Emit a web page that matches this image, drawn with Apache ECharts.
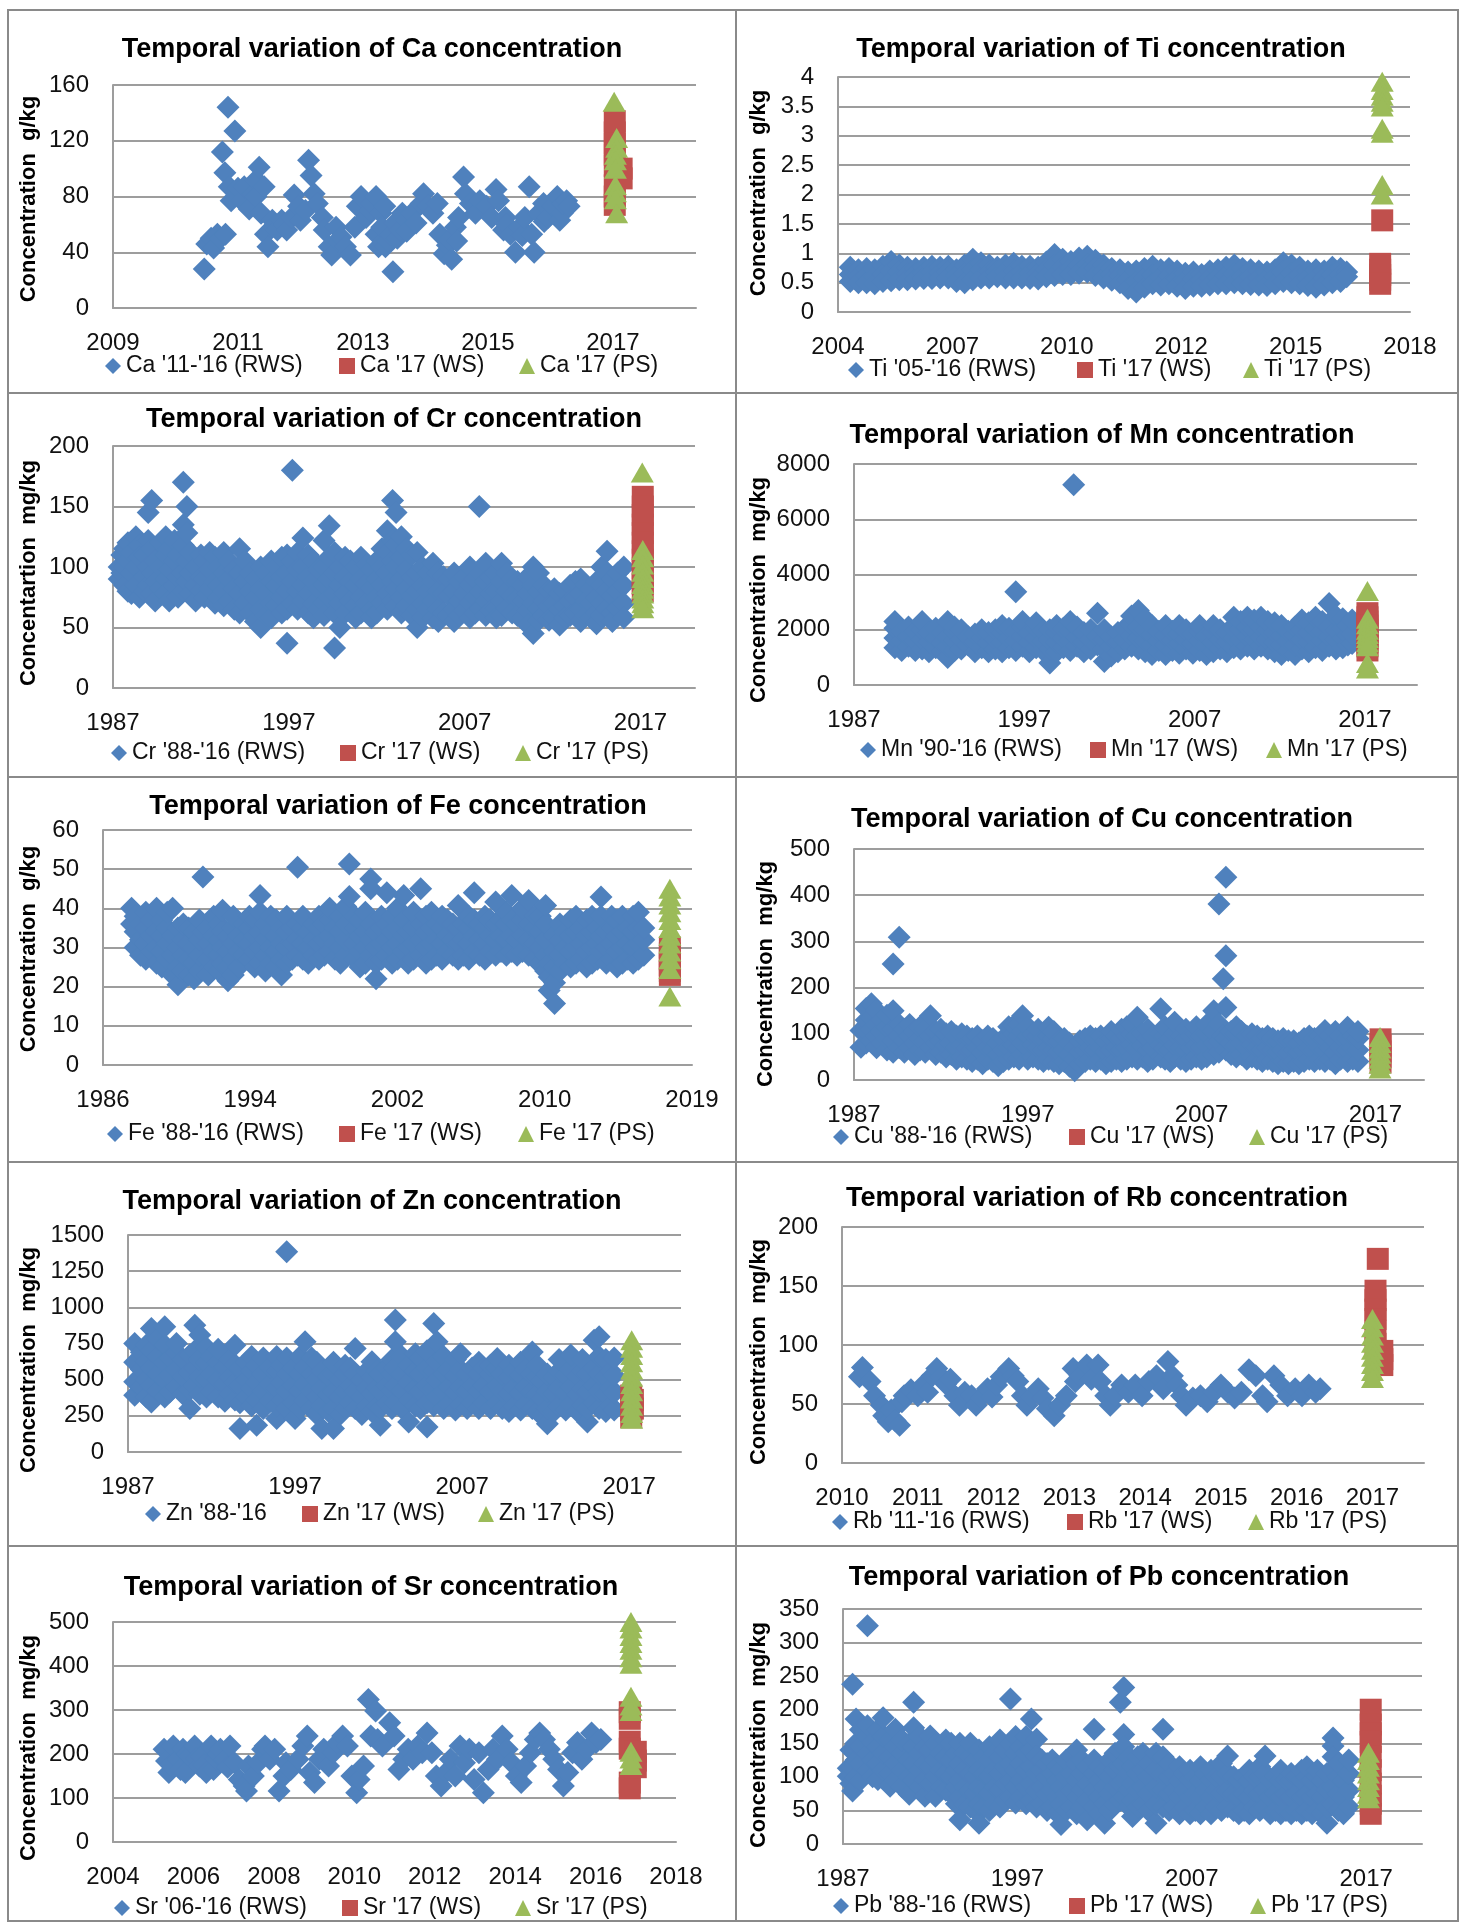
<!DOCTYPE html>
<html>
<head>
<meta charset="utf-8">
<script src="https://cdn.jsdelivr.net/npm/echarts@6/dist/echarts.min.js"></script>
<style>
  html, body { margin: 0; padding: 0; background: #fff; }
  #chart { width: 1460px; height: 1923px; }
</style>
</head>
<body>
<div id="chart"></div>
<script>
// ---- Data: each row is [decimal year, value, value, ...] (several samples on the same date) ----

// Ca (g/kg)
const caRWS = [[2010.46,28],[2010.5,46],[2010.57,50],[2010.61,43],[2010.67,53],[2010.72,50],[2010.75,112],[2010.79,97],[2010.8,53],[2010.84,144],[2010.86,87],[2010.89,77],[2010.95,127],[2011.0,86],[2011.06,77],[2011.1,87],[2011.18,71],[2011.24,82],[2011.29,92,80],[2011.34,101],[2011.37,68],[2011.42,87],[2011.44,53],[2011.48,44],[2011.55,63],[2011.6,60],[2011.63,56],[2011.7,63],[2011.75,60],[2011.78,56],[2011.86,65],[2011.9,81],[2011.97,73],[2012.0,63],[2012.08,70],[2012.13,106],[2012.17,95],[2012.22,82],[2012.27,75],[2012.35,65],[2012.38,56],[2012.46,44],[2012.5,38],[2012.57,58],[2012.6,48],[2012.65,51],[2012.72,44],[2012.8,38],[2012.87,58],[2012.91,73],[2012.97,80],[2013.05,65],[2013.1,70],[2013.14,75],[2013.21,80,53],[2013.25,44],[2013.29,68],[2013.3,58],[2013.35,73],[2013.36,44],[2013.4,48],[2013.44,53],[2013.48,26],[2013.51,61],[2013.55,50],[2013.59,56],[2013.63,68],[2013.7,63,55],[2013.78,68],[2013.85,61],[2013.93,75],[2013.97,82],[2014.04,73],[2014.12,68],[2014.19,75],[2014.23,53],[2014.3,39],[2014.35,45],[2014.38,49],[2014.42,35],[2014.48,58],[2014.5,48],[2014.53,65],[2014.61,94],[2014.64,82],[2014.72,75],[2014.8,68],[2014.87,77],[2014.98,73],[2015.06,65],[2015.13,85],[2015.17,77],[2015.25,56],[2015.28,65],[2015.3,60],[2015.36,53],[2015.44,40],[2015.51,58],[2015.55,52],[2015.59,65],[2015.66,87],[2015.7,53],[2015.74,40],[2015.81,68],[2015.89,75],[2015.9,62],[2015.96,65],[2016.04,73],[2016.11,80],[2016.15,63],[2016.19,68],[2016.2,75],[2016.26,77],[2016.3,73]];
const caWS = [[2017.03,134,126,118,110,102,88,80,74],[2017.14,100,93]];
const caPS = [[2017.02,148],[2017.06,122,115],[2017.04,110,106,100,88,83,78],[2017.06,68]];

// Ti (g/kg)
const tiRWS = [[2004.3,0.76,0.64,0.52],[2004.5,0.72,0.6,0.5],[2004.7,0.74,0.62,0.5],[2004.9,0.72,0.6,0.48],[2005.1,0.78,0.65,0.52],[2005.3,0.86,0.7,0.53],[2005.5,0.8,0.68,0.55],[2005.7,0.76,0.66,0.55],[2005.9,0.74,0.65,0.56],[2006.1,0.76,0.66,0.57],[2006.3,0.78,0.68,0.57],[2006.5,0.76,0.67,0.58],[2006.7,0.78,0.68,0.58],[2006.9,0.72,0.62,0.52],[2007.1,0.8,0.65,0.5],[2007.3,0.9,0.72,0.55],[2007.5,0.84,0.71,0.58],[2007.7,0.8,0.69,0.58],[2007.9,0.76,0.68,0.6],[2008.1,0.8,0.69,0.58],[2008.3,0.83,0.7,0.58],[2008.5,0.78,0.68,0.58],[2008.7,0.78,0.67,0.57],[2008.9,0.76,0.66,0.56],[2009.1,0.85,0.72,0.6],[2009.3,0.98,0.8,0.62],[2009.5,0.9,0.77,0.64],[2009.7,0.86,0.75,0.64],[2009.9,0.92,0.79,0.66],[2010.1,0.95,0.81,0.68],[2010.3,0.88,0.75,0.62],[2010.5,0.8,0.69,0.58],[2010.7,0.74,0.64,0.54],[2010.9,0.72,0.61,0.5],[2011.1,0.68,0.54,0.4],[2011.3,0.7,0.52,0.34],[2011.5,0.74,0.58,0.42],[2011.7,0.78,0.63,0.48],[2011.9,0.72,0.59,0.46],[2012.1,0.74,0.61,0.48],[2012.3,0.7,0.57,0.44],[2012.5,0.66,0.53,0.4],[2012.7,0.68,0.56,0.44],[2012.9,0.64,0.54,0.44],[2013.1,0.7,0.58,0.46],[2013.3,0.72,0.6,0.48],[2013.5,0.76,0.62,0.48],[2013.7,0.8,0.65,0.5],[2013.9,0.74,0.61,0.48],[2014.1,0.72,0.6,0.47],[2014.3,0.7,0.58,0.46],[2014.5,0.68,0.56,0.45],[2014.7,0.72,0.6,0.48],[2014.9,0.84,0.68,0.52],[2015.1,0.8,0.65,0.5],[2015.3,0.76,0.62,0.48],[2015.5,0.7,0.58,0.45],[2015.7,0.72,0.57,0.42],[2015.9,0.7,0.58,0.46],[2016.1,0.76,0.63,0.5],[2016.3,0.74,0.63,0.52],[2016.45,0.68,0.6]];
const tiWS = [[2017.32,1.56],[2017.27,0.82,0.72,0.63,0.55,0.48]];
const tiPS = [[2017.32,3.92,3.78,3.68,3.58,3.5,3.12,3.05,2.16,2.0]];

// Cr (mg/kg)
const crRWS = [[1987.35,100,90],[1987.5,110,95],[1987.65,115,85,100],[1987.85,120,105,80],[1988.05,112,95,78],[1988.3,125,100,85],[1988.5,118,108,75],[1988.8,110,92,80],[1989.0,145,122,100,85],[1989.2,155,115,95,78],[1989.4,105,88,72],[1989.7,120,100,82],[1990.0,125,110,90,78],[1990.2,115,98,72],[1990.5,122,105,85],[1990.7,110,92,75],[1991.0,170,135,118,95,80],[1991.2,150,128,105,88],[1991.4,112,95,78],[1991.7,100,85,72],[1992.0,110,92,80],[1992.2,105,90,75],[1992.5,112,98,82],[1992.8,108,88,70],[1993.0,100,85,75],[1993.3,112,95,80,68],[1993.6,105,90,72],[1993.9,98,82,65],[1994.2,115,95,78,62],[1994.5,105,88,70],[1994.8,95,80,62],[1995.1,90,75,55],[1995.4,100,82,65,50],[1995.7,95,78,60],[1996.0,105,88,70,58],[1996.3,100,85,68],[1996.6,108,92,75,62],[1996.9,110,95,80,65,37],[1997.2,180,105,88,70],[1997.5,112,98,80,65],[1997.8,124,100,85,72],[1998.1,110,92,78,62],[1998.4,105,88,70,58],[1998.7,98,82,65],[1999.0,122,100,85,70,60],[1999.3,134,108,90,75],[1999.6,112,95,78,62,33],[1999.9,100,85,70,50],[2000.2,108,92,78,62],[2000.5,105,88,72],[2000.8,100,85,68,58],[2001.1,108,90,75,62],[2001.4,102,86,70],[2001.7,98,82,65,58],[2002.0,105,90,75,62],[2002.3,115,100,85,70],[2002.6,130,112,95,78,65],[2002.9,155,122,105,88,72],[2003.1,145,118,100,82,68],[2003.4,125,108,90,75,62],[2003.7,115,98,82,68],[2004.0,110,92,76,60],[2004.3,112,95,80,65,50],[2004.6,100,85,70,58],[2004.9,95,80,65],[2005.2,103,88,72,58],[2005.5,95,80,65,55],[2005.8,92,78,62],[2006.1,90,76,60],[2006.4,95,80,65,55],[2006.7,88,72,60],[2007.0,92,78,64],[2007.3,100,85,70,58],[2007.6,90,75,62],[2007.83,150],[2007.9,95,80,66],[2008.2,103,88,72,60],[2008.5,92,78,64],[2008.8,95,80,66,58],[2009.1,103,88,72,60],[2009.4,95,80,66],[2009.7,90,76,62],[2010.0,88,74,60],[2010.3,85,72,58],[2010.6,92,78,64,52],[2010.9,100,85,70,45],[2011.2,95,80,66,56],[2011.5,85,72,60],[2011.8,80,68,56],[2012.1,82,70,58],[2012.4,78,65,52],[2012.7,80,68,58],[2013.0,85,72,60],[2013.3,88,75,62],[2013.6,90,78,65,55],[2013.9,85,72,60],[2014.2,82,70,58],[2014.5,88,75,62,53],[2014.8,100,85,70,60],[2015.1,113,95,80,65],[2015.4,90,76,62,55],[2015.7,95,80,66],[2016.05,100,85,70,58]];
const crWS = [[2017.13,158,150,143,135,128,120,113,106,99,92,86,80]];
const crPS = [[2017.1,178],[2017.13,114,108,102,96,91,86,82,78,74,70,66]];

// Mn (mg/kg)
const mnRWS = [[1989.4,1350,1700,2050,2300],[1989.8,1250,1600,1950],[1990.2,1400,1750,2100],[1990.6,1250,1600,1950],[1991.0,1300,1650,2000,2300],[1991.4,1200,1550,1900],[1991.8,1350,1700,2050],[1992.2,1200,1550,1900],[1992.5,1000,1400,1750,2300],[1992.9,1250,1600,1950,2100],[1993.3,1300,1650,2000],[1993.7,1450,1750],[1994.1,1200,1550,1850],[1994.5,1350,1700,2000],[1994.9,1200,1550,1900],[1995.3,1300,1650,2000],[1995.7,1200,1550,1900,2150],[1996.1,1350,1700,2050],[1996.5,1250,1600,1950,3380],[1996.9,1400,1750,2100,2300],[1997.3,1200,1550,1900],[1997.7,1350,1700,2050,2250],[1998.1,1250,1600,1950],[1998.5,800,1300,1650,2000],[1998.9,1200,1550,1900,2150],[1999.3,1350,1700,2050],[1999.7,1250,1600,1950,2300],[1999.9,7250],[2000.1,1400,1750,2100],[2000.5,1200,1550,1900],[2000.9,1300,1650,2000],[2001.3,1450,1750,2600],[2001.7,850,1300,1650,2000],[2002.1,1050,1400,1750],[2002.5,1200,1550,1900],[2002.9,1300,1650,2050],[2003.3,1400,1800,2200,2500],[2003.7,1300,1700,2100,2700],[2004.1,1200,1600,2000,2400],[2004.5,1100,1450,1800,2150],[2004.9,1250,1600,1950],[2005.3,1100,1450,1800,2150],[2005.7,1250,1600,1950],[2006.1,1150,1500,1850,2150],[2006.5,1300,1650,2000],[2006.9,1150,1500,1850],[2007.3,1250,1600,1950,2150],[2007.7,1100,1450,1800],[2008.1,1200,1550,1900,2150],[2008.5,1300,1650,2000],[2008.9,1200,1550,1900],[2009.3,1350,1700,2050,2450],[2009.7,1300,1650,2000,2300],[2010.1,1400,1750,2100,2450],[2010.5,1300,1650,2000,2350],[2010.9,1400,1750,2100,2450],[2011.3,1300,1650,2000,2300],[2011.7,1200,1550,1900,2250],[2012.1,1100,1450,1800,2150],[2012.5,1250,1600,1950],[2012.9,1100,1450,1800,2100],[2013.3,1300,1650,2000,2350],[2013.7,1200,1550,1900,2250],[2014.1,1350,1700,2050,2450],[2014.5,1250,1600,1950,2300],[2014.9,1400,1750,2100,2950],[2015.3,1300,1650,2000,2500],[2015.7,1350,1700,2050,2400],[2016.0,1450,1800,2150],[2016.25,1500,1850,2350]];
const mnWS = [[2017.15,2600,2450,2300,2150,2000,1850,1700,1550,1400,1250]];
const mnPS = [[2017.15,3400,2400,2200,2000,1850,1700,1550,1400,800,600]];

// Fe (g/kg)
const feRWS = [[1987.6,36,40],[1987.8,30,34,38],[1988.1,28,32,36],[1988.4,27,31,35,39],[1988.7,29,33,37],[1989.0,26,30,34,40],[1989.3,25,29,33,37],[1989.6,27,31,35,39],[1989.9,23,28,33,40],[1990.2,20.5,25,30,35],[1990.5,24,28,32,36],[1990.8,23,27,31,35],[1991.1,22,26,30,34],[1991.4,24,28,32,37],[1991.6,48,34],[1991.9,23,27,31,35],[1992.2,25,29,33,38],[1992.5,24,28,32,36],[1992.7,26,30,34,39.5],[1993.0,21.5,25,29,33],[1993.3,23,27,31,35,38],[1993.6,25,29,33],[1993.9,28,32,36],[1994.2,27,31,35,38],[1994.5,25,29,33,37],[1994.8,26,30,34,39,43.3],[1995.1,24,28,32,36],[1995.4,26,30,34,38],[1995.7,25,29,33,37],[1996.0,23,27,31,35],[1996.3,26,30,34,38],[1996.6,27,31,35],[1996.9,28,32,36,50.5],[1997.2,27,31,35,38],[1997.5,26,30,34],[1997.8,28,32,36],[1998.1,27,31,35,38],[1998.4,28,32,36],[1998.7,29,33,37,40],[1999.0,27,31,35],[1999.3,26,30,34,38],[1999.6,28,32,36,40.5],[1999.8,51.3,43],[2000.1,27,31,35,38],[2000.4,25,29,33,37],[2000.7,26,30,34,39],[2001.0,47.5,45,28,32,36],[2001.3,22,26,30,34],[2001.6,27,31,35,38],[2001.9,44,28,32,36],[2002.2,26,30,34,38],[2002.5,27,31,35,40],[2002.85,43.3,29,33,37],[2003.1,26,30,34],[2003.4,27,31,35,39],[2003.8,45,28,32,36],[2004.1,26,30,34,38],[2004.4,27,31,35,39],[2004.7,28,32,36],[2005.0,27,31,35,38],[2005.3,29,33,37],[2005.6,28,32,36],[2005.9,27,31,35,40.7],[2006.2,28,32,36],[2006.5,27,31,35,38],[2006.8,29,33,37,44],[2007.1,28,32,36],[2007.4,27,31,35,38],[2007.7,29,33,37],[2008.0,28,32,36,41.6],[2008.3,29,33,37],[2008.6,28,32,36,39],[2008.9,29,33,37,43.3],[2009.2,28,32,36],[2009.5,29,33,37,40],[2009.85,28,32,36,42],[2010.2,27,31,35,38],[2010.5,26,30,34,38],[2010.8,24,28,32,36,40.7],[2011.0,22.5,19,26],[2011.3,15.7,21,25,29,33],[2011.6,24,28,32,36],[2011.9,26,30,34],[2012.2,25,29,33,37],[2012.5,26,30,34,38],[2012.8,27,31,35],[2013.1,25,29,33,37],[2013.4,26,30,34,38],[2013.7,27,31,35],[2013.9,42.9,29,33,38],[2014.2,26,30,34],[2014.5,27,31,35,38],[2014.8,25,29,33,37],[2015.1,26,30,34,38],[2015.4,27,31,35],[2015.7,26,30,34,38],[2016.0,27,31,35,39],[2016.3,28,32,35]];
const feWS = [[2017.76,30,28.5,27,25.5,24,23]];
const fePS = [[2017.76,45,43,41,39,37,35,33,31,29,27,24.5,17.5]];

// Cu (mg/kg)
const cuRWS = [[1987.4,71,107],[1987.7,80,105,130,155],[1988.0,85,110,135,165],[1988.3,70,95,120,150],[1988.6,80,105,130],[1988.9,65,90,115,140],[1989.25,60,85,110,150,251],[1989.6,70,95,120,309],[1989.9,60,85,110],[1990.2,70,95,120],[1990.5,55,80,105],[1990.8,65,90,115],[1991.1,60,85,110],[1991.4,70,95,139],[1991.7,55,80,105],[1992.0,60,85,110],[1992.3,50,75,100],[1992.6,55,80,105],[1992.9,45,70,95],[1993.2,50,75,100],[1993.5,45,70,95],[1993.8,40,65,90],[1994.1,45,70,95],[1994.4,35,60,85],[1994.7,45,70,95],[1995.0,40,65,90],[1995.3,31,55,80],[1995.6,40,65,90],[1995.9,45,70,95,115],[1996.2,50,75,100,118],[1996.5,45,70,95,120],[1996.7,55,80,105,139],[1997.0,45,70,95,115],[1997.3,50,75,100],[1997.6,45,70,95,110],[1997.9,40,65,90],[1998.2,45,70,95,114],[1998.5,40,65,90,105],[1998.8,35,60,85],[1999.1,40,65,90],[1999.4,30,55,80],[1999.7,20,45,70],[2000.0,35,60,85],[2000.3,40,65,90],[2000.6,45,70,95],[2000.9,40,65,90],[2001.2,45,70,95],[2001.5,35,60,85],[2001.8,40,65,90,105],[2002.1,45,70,95],[2002.4,40,65,90,110],[2002.7,45,70,95,115],[2003.0,50,75,100,120],[2003.3,45,70,95,136],[2003.6,50,75,100],[2003.9,40,65,90,110],[2004.2,45,70,95],[2004.65,50,75,100,154],[2004.9,45,70,95,115],[2005.2,40,65,90],[2005.45,50,75,100,125],[2005.8,45,70,95],[2006.1,40,65,90,110],[2006.4,45,70,95],[2006.7,50,75,100,115],[2007.0,45,70,95],[2007.3,50,75,100,120],[2007.7,55,80,105,150],[2008.0,60,85,121,381],[2008.25,95,219],[2008.4,65,90,157,269,439],[2008.7,55,80,105],[2009.0,50,75,100,115],[2009.3,55,80,105],[2009.6,45,70,95],[2009.9,50,75,100],[2010.2,45,70,95],[2010.5,40,65,90],[2010.8,45,70,95],[2011.1,40,65,90],[2011.4,35,60,85],[2011.7,40,65,90],[2012.0,35,60,85],[2012.3,40,65,85],[2012.6,35,60,80],[2012.9,40,65,90],[2013.2,45,70,95],[2013.5,40,65,90],[2013.8,45,70,95],[2014.1,40,65,90,107],[2014.4,45,70,95],[2014.7,35,60,85,105],[2015.0,45,70,95],[2015.4,40,65,90,114],[2015.7,45,70,95],[2016.0,40,65,90,105]];
const cuWS = [[2017.3,88,75,62,50,38]];
const cuPS = [[2017.27,93,80,68,57,46,35,25]];

// Zn (mg/kg)
const znRWS = [[1987.4,392,485,620,750],[1987.8,450,570,690],[1988.1,380,500,623,740],[1988.4,346,460,580,700,854],[1988.8,420,540,660,780],[1989.2,380,500,620,740,865],[1989.5,415,530,650],[1989.9,450,570,690,750],[1990.3,400,520,640],[1990.7,300,430,550,670],[1991.0,460,580,700,877],[1991.3,400,520,640,808],[1991.7,380,500,620,720],[1992.0,420,540,660],[1992.4,380,500,620,710],[1992.8,350,470,590],[1993.1,400,520,640],[1993.4,360,480,600,738],[1993.7,162,340,460,580],[1994.1,380,500,620],[1994.4,320,440,560,660],[1994.7,185,360,480,600],[1995.1,300,420,540,650],[1995.5,350,470,590],[1995.9,231,320,440,560,660],[1996.2,360,480,600],[1996.5,300,420,540,650,1385],[1996.9,340,460,580],[1997.0,231],[1997.3,300,420,540,660],[1997.6,350,470,590,762],[1998.0,300,420,540,650],[1998.3,260,380,500,620],[1998.6,162,320,440,560],[1999.0,280,400,520],[1999.3,162,300,420,540,620],[1999.7,260,380,500],[2000.0,300,420,540,600],[2000.3,340,460,580],[2000.6,300,420,540,715],[2001.0,260,380,500],[2001.3,320,440,560],[2001.6,280,400,520,623],[2001.9,320,440,560],[2002.1,185,300,420,540],[2002.5,340,460,580],[2002.8,300,420,540,640],[2003.0,340,460,580,762,912],[2003.4,300,420,540,660],[2003.8,208,360,480,600],[2004.2,320,440,560,680],[2004.5,300,420,540,650],[2004.9,173,340,460,580,700],[2005.3,320,440,560,888],[2005.5,380,500,620,762],[2005.9,300,420,540,660],[2006.2,330,450,570],[2006.6,290,410,530,640],[2006.9,330,450,570,680],[2007.3,300,420,540],[2007.6,340,460,580],[2008.0,300,420,540,620],[2008.3,340,460,580],[2008.7,300,420,540,600],[2009.1,340,460,580,646],[2009.4,300,420,540],[2009.8,280,400,520,600],[2010.1,320,440,560],[2010.5,290,410,530,620],[2010.8,330,450,570],[2011.2,300,420,540,692],[2011.5,280,400,520,600],[2011.8,250,370,490],[2012.1,196,300,420,540],[2012.5,280,400,520],[2012.8,320,440,560,640],[2013.2,290,410,530],[2013.5,330,450,570,670],[2013.9,280,400,520],[2014.2,320,440,560,640],[2014.5,208,300,420,540],[2014.9,340,460,580,773],[2015.2,300,420,540,660,796],[2015.6,280,400,520,640],[2015.9,320,440,560],[2016.1,290,410,530,650]];
const znWS = [[2017.12,390,340,290,240],[2017.22,360,300]];
const znPS = [[2017.15,773,720,670,620,570,520,470,420,370,320,270,230]];

// Rb (mg/kg)
const rbRWS = [[2010.23,73],[2010.27,81],[2010.37,69],[2010.43,57],[2010.52,49],[2010.55,40],[2010.61,35],[2010.65,45],[2010.7,36],[2010.76,32],[2010.79,52],[2010.82,57],[2010.91,62],[2011.0,57],[2011.07,66],[2011.13,60],[2011.19,74],[2011.25,80],[2011.31,73],[2011.37,67],[2011.43,71],[2011.49,57],[2011.55,49],[2011.62,60],[2011.71,57],[2011.77,49],[2011.83,55],[2011.92,63],[2011.98,56],[2012.04,66],[2012.1,73],[2012.2,80],[2012.26,74],[2012.32,69],[2012.38,57],[2012.44,49],[2012.5,56],[2012.59,63],[2012.65,55],[2012.71,46],[2012.8,40],[2012.87,49],[2012.96,57],[2013.05,80],[2013.08,69],[2013.14,74],[2013.23,83],[2013.29,71],[2013.38,83],[2013.41,69],[2013.48,57],[2013.54,49],[2013.6,57],[2013.69,66],[2013.78,60],[2013.87,66],[2013.96,57],[2014.05,69],[2014.15,74],[2014.24,63],[2014.3,86],[2014.36,74],[2014.42,66],[2014.48,57],[2014.54,49],[2014.63,55],[2014.73,57],[2014.82,52],[2014.91,60],[2015.0,66],[2015.09,60],[2015.18,55],[2015.27,60],[2015.37,79],[2015.46,74],[2015.55,57],[2015.61,52],[2015.7,74],[2015.79,66],[2015.88,57],[2015.98,63],[2016.07,57],[2016.16,66],[2016.25,60],[2016.31,63]];
const rbWS = [[2017.07,173],[2017.04,146,138,130,122,112,101],[2017.13,95,88,83]];
const rbPS = [[2017.0,122,115,108,102,96,90,84,78,72]];

// Sr (mg/kg)
const srRWS = [[2005.27,211],[2005.33,184],[2005.39,158],[2005.45,175],[2005.5,218],[2005.62,188],[2005.68,165],[2005.74,211],[2005.8,158],[2005.85,200],[2005.91,195],[2006.03,218],[2006.08,190],[2006.15,173],[2006.2,195],[2006.26,175],[2006.32,158],[2006.44,218],[2006.5,165],[2006.56,188],[2006.62,200],[2006.67,211],[2006.79,188],[2006.85,170],[2006.91,218],[2007.02,180],[2007.14,142],[2007.26,127],[2007.32,116],[2007.37,173],[2007.49,150],[2007.61,180],[2007.72,211],[2007.78,218],[2007.9,188],[2008.02,211],[2008.13,116],[2008.25,150],[2008.3,180],[2008.42,165],[2008.6,188],[2008.72,218],[2008.83,241],[2008.89,158],[2009.01,135],[2009.13,188],[2009.24,211],[2009.36,173],[2009.48,203],[2009.59,226],[2009.71,241],[2009.83,218],[2009.94,150],[2010.06,112],[2010.12,142],[2010.23,173],[2010.35,324],[2010.41,241],[2010.53,298],[2010.58,233],[2010.7,218],[2010.88,271],[2010.99,241],[2011.11,165],[2011.23,188],[2011.34,211],[2011.46,188],[2011.58,218],[2011.69,203],[2011.81,248],[2011.93,203],[2012.04,150],[2012.16,127],[2012.28,158],[2012.39,188],[2012.51,150],[2012.63,218],[2012.74,180],[2012.86,211],[2012.98,142],[2013.1,203],[2013.21,112],[2013.33,165],[2013.45,211],[2013.56,188],[2013.68,241],[2013.8,211],[2013.91,180],[2014.03,150],[2014.15,135],[2014.26,173],[2014.38,203],[2014.5,233],[2014.61,248],[2014.73,233],[2014.85,211],[2014.96,188],[2015.08,165],[2015.2,127],[2015.31,158],[2015.43,203],[2015.55,226],[2015.66,188],[2015.78,211],[2015.9,248],[2016.01,226],[2016.13,233]];
const srWS = [[2016.85,295,280,228,212,135,122],[2017.0,205,185,170]];
const srPS = [[2016.88,500,485,468,452,437,420,405,330,310,298,205,190,175]];

// Pb (mg/kg)
const pbRWS = [[1987.3,113,101],[1987.45,90,115,140],[1987.55,238,79],[1987.75,100,125,150,186],[1988.0,95,120,145,170],[1988.4,325,110,135,160,176],[1988.7,100,125,151],[1989.0,96,120,145,170],[1989.3,110,135,160,188],[1989.7,86,105,130,155],[1990.0,95,120,145,171],[1990.4,85,110,135,155],[1990.8,74,100,125,150],[1991.05,211,173,95,120,145],[1991.4,85,110,135,160],[1991.7,71,95,120,145],[1992.0,161,90,115,140],[1992.3,71,100,125,150],[1992.6,85,110,135],[1992.9,80,105,130,155],[1993.2,75,100,125,150],[1993.5,60,85,110,135],[1993.7,36,70,95,120,150],[1994.0,60,85,110,135],[1994.3,55,80,105,130,150],[1994.6,50,75,100,125],[1994.8,31,60,85,110,140],[1995.1,55,80,105,130],[1995.4,50,75,100,125,145],[1995.7,60,85,110,135],[1996.0,55,80,105,130,155],[1996.3,65,90,115,140],[1996.6,216,70,95,120,150],[1996.9,61,85,110,135,160],[1997.2,70,95,120,145],[1997.5,60,85,110,135,160],[1997.8,186,65,90,115,140],[1998.1,156,55,80,105,130],[1998.4,60,85,110,125],[1998.7,50,75,100,120],[1999.0,55,80,105,125],[1999.3,45,70,95,115],[1999.5,29,60,85,110],[1999.8,50,75,100,125],[2000.1,55,80,105,130],[2000.4,45,70,95,120,140],[2000.7,55,80,105,125],[2001.0,36,65,90,115],[2001.4,171,55,80,105,125],[2001.7,45,70,95,115],[2002.0,31,60,85,110],[2002.3,50,75,100,125],[2002.6,60,85,110,135],[2002.9,65,90,115,140,211],[2003.1,233,163,70,95,120,145],[2003.4,55,80,105,130],[2003.6,41,65,90,115],[2003.9,55,80,105,130],[2004.2,60,85,110,135],[2004.5,50,75,100,120],[2004.95,31,60,85,110,135],[2005.35,171,55,80,105,130],[2005.7,50,75,100,120],[2006.0,55,80,105],[2006.3,45,70,95,115],[2006.6,55,80,105],[2006.9,45,70,95,110],[2007.2,50,75,100],[2007.5,45,70,95,115],[2007.8,55,80,105],[2008.1,45,70,95,110],[2008.4,55,80,100],[2008.7,50,75,100,120],[2009.05,55,80,105,131],[2009.4,50,75,100],[2009.7,45,70,95],[2010.0,50,75,100],[2010.3,45,70,95,110],[2010.6,55,80,100],[2010.9,50,75,100,115],[2011.2,55,80,105,131],[2011.5,45,70,95],[2011.8,50,75,100],[2012.1,45,70,95,110],[2012.4,50,75,95],[2012.7,45,70,95,105],[2013.0,50,75,100],[2013.3,45,70,95,110],[2013.6,50,75,100,115],[2013.9,45,70,95],[2014.2,50,75,100,110],[2014.5,45,70,95],[2014.75,31,55,80,105],[2015.1,158,146,60,85,110,130],[2015.4,50,75,100,120],[2015.7,45,70,95],[2016.0,55,80,105,125]];
const pbWS = [[2017.26,200,178,165,152,130,110,90,72,60,45]];
const pbPS = [[2017.13,136,125,115,105,95,85,75,68]];

// ---- Tick labels of the time axes ----
const caYears = ['2009', '2011', '2013', '2015', '2017'];
const tiYears = ['2004', '2007', '2010', '2012', '2015', '2018'];
const decadeYears = ['1987', '1997', '2007', '2017'];
const feYears = ['1986', '1994', '2002', '2010', '2019'];
const rbYears = ['2010', '2011', '2012', '2013', '2014', '2015', '2016', '2017'];
const srYears = ['2004', '2006', '2008', '2010', '2012', '2014', '2016', '2018'];

// ---- Styling ----
const FONT = '"Liberation Sans", Arial, sans-serif';
const BLUE = '#4F81BD', RED = '#C0504D', GREEN = '#9BBB59';
const LINE = '#9d9d9d';
const MARKS = [
  { symbol: 'diamond', size: [23, 23], color: BLUE },
  { symbol: 'rect', size: [22, 22], color: RED },
  { symbol: 'triangle', size: [23, 20], color: GREEN }
];

// ---- Panel layout (page pixels) ----
const panels = [
  { title: 'Temporal variation of Ca concentration', yName: 'Concentration  g/kg',
    names: ["Ca '11-'16 (RWS)", "Ca '17 (WS)", "Ca '17 (PS)"], rows: [caRWS, caWS, caPS],
    x0: 2009, xEnd: 2018.33, xStep: 2, xLabels: caYears, yMax: 160, yStep: 40,
    box: [8, 10, 736, 393], plot: [113, 85, 696, 308], titleAt: [372, 50], yNameAt: [29, 199],
    legendY: 366, legendX: [113, 347, 527] },
  { title: 'Temporal variation of Ti concentration', yName: 'Concentration  g/kg',
    names: ["Ti '05-'16 (RWS)", "Ti '17 (WS)", "Ti '17 (PS)"], rows: [tiRWS, tiWS, tiPS],
    x0: 2004, xEnd: 2018, xStep: 2.8, xLabels: tiYears, yMax: 4, yStep: 0.5,
    box: [736, 10, 1458, 393], plot: [838, 77, 1410, 312], titleAt: [1101, 50], yNameAt: [759, 193],
    legendY: 370, legendX: [856, 1085, 1251] },
  { title: 'Temporal variation of Cr concentration', yName: 'Concentartion  mg/kg',
    names: ["Cr '88-'16 (RWS)", "Cr '17 (WS)", "Cr '17 (PS)"], rows: [crRWS, crWS, crPS],
    x0: 1987, xEnd: 2020.1, xStep: 10, xLabels: decadeYears, yMax: 200, yStep: 50,
    box: [8, 393, 736, 777], plot: [113, 446, 695, 688], titleAt: [394, 420], yNameAt: [29, 573],
    legendY: 753, legendX: [119, 348, 523] },
  { title: 'Temporal variation of Mn concentration', yName: 'Concentration  mg/kg',
    names: ["Mn '90-'16 (RWS)", "Mn '17 (WS)", "Mn '17 (PS)"], rows: [mnRWS, mnWS, mnPS],
    x0: 1987, xEnd: 2020.06, xStep: 10, xLabels: decadeYears, yMax: 8000, yStep: 2000,
    box: [736, 393, 1458, 777], plot: [854, 464, 1417, 685], titleAt: [1102, 436], yNameAt: [759, 590],
    legendY: 750, legendX: [868, 1098, 1274] },
  { title: 'Temporal variation of Fe concentration', yName: 'Concentration  g/kg',
    names: ["Fe '88-'16 (RWS)", "Fe '17 (WS)", "Fe '17 (PS)"], rows: [feRWS, feWS, fePS],
    x0: 1986, xEnd: 2019, xStep: 8.25, xLabels: feYears, yMax: 60, yStep: 10,
    box: [8, 777, 736, 1162], plot: [103, 830, 692, 1065], titleAt: [398, 807], yNameAt: [29, 949],
    legendY: 1134, legendX: [115, 347, 526] },
  { title: 'Temporal variation of Cu concentration', yName: 'Concentration  mg/kg',
    names: ["Cu '88-'16 (RWS)", "Cu '17 (WS)", "Cu '17 (PS)"], rows: [cuRWS, cuWS, cuPS],
    x0: 1987, xEnd: 2019.8, xStep: 10, xLabels: decadeYears, yMax: 500, yStep: 100,
    box: [736, 777, 1458, 1162], plot: [854, 849, 1424, 1080], titleAt: [1102, 820], yNameAt: [766, 974],
    legendY: 1137, legendX: [841, 1077, 1257] },
  { title: 'Temporal variation of Zn concentration', yName: 'Concentration  mg/kg',
    names: ["Zn '88-'16", "Zn '17 (WS)", "Zn '17 (PS)"], rows: [znRWS, znWS, znPS],
    x0: 1987, xEnd: 2020.1, xStep: 10, xLabels: decadeYears, yMax: 1500, yStep: 250,
    box: [8, 1162, 736, 1546], plot: [128, 1235, 681, 1452], titleAt: [372, 1202], yNameAt: [29, 1360],
    legendY: 1514, legendX: [153, 310, 486] },
  { title: 'Temporal variation of Rb concentration', yName: 'Concentration  mg/kg',
    names: ["Rb '11-'16 (RWS)", "Rb '17 (WS)", "Rb '17 (PS)"], rows: [rbRWS, rbWS, rbPS],
    x0: 2010, xEnd: 2017.68, xStep: 1, xLabels: rbYears, yMax: 200, yStep: 50,
    box: [736, 1162, 1458, 1546], plot: [842, 1227, 1424, 1463], titleAt: [1097, 1199], yNameAt: [759, 1352],
    legendY: 1522, legendX: [840, 1075, 1256] },
  { title: 'Temporal variation of Sr concentration', yName: 'Concentration  mg/kg',
    names: ["Sr '06-'16 (RWS)", "Sr '17 (WS)", "Sr '17 (PS)"], rows: [srRWS, srWS, srPS],
    x0: 2004, xEnd: 2018, xStep: 2, xLabels: srYears, yMax: 500, yStep: 100,
    box: [8, 1546, 736, 1921], plot: [113, 1622, 676, 1842], titleAt: [371, 1588], yNameAt: [29, 1748],
    legendY: 1908, legendX: [122, 350, 523] },
  { title: 'Temporal variation of Pb concentration', yName: 'Concentration  mg/kg',
    names: ["Pb '88-'16 (RWS)", "Pb '17 (WS)", "Pb '17 (PS)"], rows: [pbRWS, pbWS, pbPS],
    x0: 1987, xEnd: 2020.2, xStep: 10, xLabels: decadeYears, yMax: 350, yStep: 50,
    box: [736, 1546, 1458, 1921], plot: [843, 1609, 1422, 1844], titleAt: [1099, 1578], yNameAt: [759, 1735],
    legendY: 1906, legendX: [841, 1077, 1258] }
];

// Expand [date, v1, v2, ...] rows into scatter points, x measured from the axis origin year
function toPoints(rows, x0) {
  const pts = [];
  rows.forEach(r => {
    for (let i = 1; i < r.length; i++) pts.push([+(r[0] - x0).toFixed(4), r[i]]);
  });
  return pts;
}

const option = {
  animation: false,
  backgroundColor: '#ffffff',
  grid: [], xAxis: [], yAxis: [], series: [], legend: [], graphic: []
};

panels.forEach((p, i) => {
  const [l, t, r, b] = p.plot;
  option.grid.push({ left: l, top: t, width: r - l, height: b - t, containLabel: false, outerBoundsMode: 'none' });

  option.xAxis.push({
    type: 'value', gridIndex: i, min: 0, max: +(p.xEnd - p.x0).toFixed(3), interval: p.xStep,
    axisLine: { show: true, onZero: false, lineStyle: { color: LINE, width: 2 } },
    axisTick: { show: false },
    splitLine: { show: false },
    axisLabel: {
      margin: 23, fontSize: 24, fontFamily: FONT, color: '#111',
      formatter: v => {
        const k = Math.round(v / p.xStep);
        return (Math.abs(v - k * p.xStep) < 1e-6 && k < p.xLabels.length) ? p.xLabels[k] : '';
      }
    }
  });

  option.yAxis.push({
    type: 'value', gridIndex: i, min: 0, max: p.yMax, interval: p.yStep,
    axisLine: { show: true, lineStyle: { color: LINE, width: 2 } },
    axisTick: { show: false },
    splitLine: { show: true, lineStyle: { color: LINE, width: 2 } },
    axisLabel: { margin: 24, fontSize: 24, fontFamily: FONT, color: '#111', formatter: v => String(+v.toFixed(2)) }
  });

  p.rows.forEach((rows, k) => {
    const m = MARKS[k];
    option.series.push({
      type: 'scatter', name: p.names[k], xAxisIndex: i, yAxisIndex: i,
      symbol: m.symbol, symbolSize: m.size,
      itemStyle: { color: m.color, opacity: 1 },
      emphasis: { disabled: true },
      data: toPoints(rows, p.x0)
    });
    option.legend.push({
      data: [p.names[k]], icon: m.symbol,
      left: p.legendX[k] - 8, top: p.legendY - 11.5, padding: 0,
      itemWidth: 16, itemHeight: 16, selectedMode: false,
      textStyle: { fontSize: 23, fontFamily: FONT, color: '#111' }
    });
  });

  const [bx0, by0, bx1, by1] = p.box;
  option.graphic.push({
    type: 'rect', silent: true,
    shape: { x: bx0, y: by0, width: bx1 - bx0, height: by1 - by0 },
    style: { fill: 'none', stroke: '#8a8a8a', lineWidth: 2 }
  });
  option.graphic.push({
    type: 'text', silent: true, x: p.titleAt[0], y: p.titleAt[1],
    style: { text: p.title, font: 'bold 27px ' + FONT, fill: '#000',
             textAlign: 'center', textVerticalAlign: 'middle', align: 'center', verticalAlign: 'middle' }
  });
  option.graphic.push({
    type: 'text', silent: true, x: p.yNameAt[0], y: p.yNameAt[1], rotation: Math.PI / 2,
    style: { text: p.yName, font: 'bold 22px ' + FONT, fill: '#000',
             textAlign: 'center', textVerticalAlign: 'middle', align: 'center', verticalAlign: 'middle' }
  });
});

const chart = echarts.init(document.getElementById('chart'), null, { renderer: 'canvas' });
chart.setOption(option);
</script>
</body>
</html>
